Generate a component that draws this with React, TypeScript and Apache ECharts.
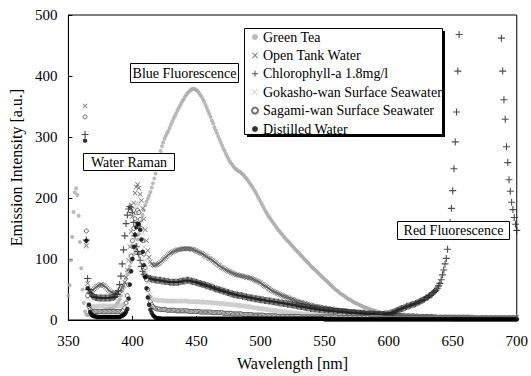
import { useEffect, useRef } from "react";
import * as echarts from "echarts";

// Wavelength grid (1 nm steps) shared by all series
const WL_START = 350;
const WL_END = 700;
const wavelengths: number[] = [];
for (let w = WL_START; w <= WL_END; w++) wavelengths.push(w);

const _ = null;

const greenTea: (number | null)[] = [
  40, 57, 98, 136, 177, 209, 216, 205, 171, 128,
  85, 50, 28, 14, 9, 8, 9, 9, 10, 10,
  11, 11, 12, 12, 13, 14, 15, 15, 16, 16,
  17, 18, 19, 19, 20, 21, 22, 24, 27, 30,
  34, 40, 47, 54, 61, 68, 75, 82, 88, 95,
  101, 108, 115, 123, 132, 141, 152, 163, 172, 180,
  188, 194, 199, 204, 210, 217, 224, 232, 240, 250,
  259, 268, 277, 285, 291, 297, 302, 306, 310, 315,
  320, 325, 330, 334, 338, 343, 347, 351, 355, 359,
  362, 366, 369, 372, 374, 376, 378, 379, 379, 378,
  377, 375, 372, 369, 366, 362, 358, 353, 348, 343,
  338, 333, 327, 322, 316, 311, 306, 301, 296, 291,
  286, 281, 277, 272, 268, 264, 260, 257, 254, 251,
  249, 247, 245, 244, 243, 241, 239, 237, 234, 232,
  229, 226, 223, 220, 217, 213, 210, 206, 202, 198,
  194, 190, 186, 182, 178, 175, 171, 168, 165, 162,
  159, 156, 153, 150, 147, 145, 142, 140, 137, 135,
  132, 130, 128, 126, 123, 121, 119, 116, 114, 112,
  110, 107, 105, 103, 100, 98, 96, 94, 92, 89,
  87, 85, 83, 81, 79, 77, 75, 73, 71, 69,
  67, 65, 63, 61, 59, 57, 55, 53, 51, 49,
  48, 46, 44, 43, 41, 40, 38, 37, 35, 34,
  33, 32, 30, 29, 28, 27, 26, 25, 24, 23,
  22, 21, 20, 20, 19, 18, 17, 16, 16, 15,
  14, 14, 13, 13, 12, 12, 11, 11, 10, 10,
  10, 9, 9, 9, 8, 8, 8, 8, 7, 7,
  7, 7, 6, 6, 6, 6, 6, 5, 5, 5,
  5, 5, 5, 5, 4, 4, 4, 4, 4, 4,
  4, 4, 4, 3, 3, 3, 3, 3, 3, 3,
  3, 3, 3, 3, 3, 3, 3, 3, 3, 3,
  3, 3, 3, 3, 3, 3, 2, 2, 2, 2,
  2, 2, 2, 2, 2, 2, 2, 2, 2, 2,
  2, 2, 2, 2, 2, 2, 2, 2, 2, 2,
  2, 2, 2, 2, 2, 2, 2, 2, 2, 2,
  2, 2, 2, 2, 2, 2, 2, 2, 2, 2,
  2,
];

const openTank: (number | null)[] = [
  _, _, _, _, _, _, _, _, _, _,
  _, _, _, 351, 122, 60, 48, 46, 47, 49,
  51, 53, 55, 56, 57, 58, 58, 57, 56, 54,
  52, 50, 48, 46, 45, 44, 44, 44, 45, 46,
  48, 50, 53, 57, 62, 70, 82, 98, 120, 145,
  170, 192, 208, 218, 222, 216, 206, 196, 183, 166,
  148, 130, 114, 103, 96, 92, 90, 89, 90, 91,
  92, 93, 95, 97, 99, 101, 103, 105, 107, 109,
  110, 111, 112, 113, 114, 115, 115, 116, 116, 117,
  117, 117, 117, 117, 117, 117, 116, 116, 115, 114,
  113, 112, 111, 110, 109, 108, 106, 105, 104, 102,
  101, 100, 98, 97, 95, 94, 92, 90, 89, 87,
  86, 85, 83, 82, 81, 80, 79, 78, 77, 76,
  75, 74, 74, 73, 73, 72, 72, 71, 71, 70,
  70, 69, 69, 68, 67, 66, 65, 64, 63, 62,
  61, 59, 58, 56, 55, 54, 52, 51, 49, 48,
  47, 46, 45, 44, 43, 42, 41, 40, 39, 38,
  38, 37, 36, 35, 34, 34, 33, 32, 31, 30,
  30, 29, 29, 28, 27, 27, 26, 26, 25, 24,
  24, 23, 23, 22, 22, 22, 21, 21, 20, 20,
  20, 19, 19, 19, 18, 18, 18, 17, 17, 17,
  16, 16, 16, 16, 15, 15, 15, 15, 14, 14,
  14, 14, 13, 13, 13, 13, 12, 12, 12, 12,
  12, 11, 11, 11, 11, 11, 10, 10, 10, 10,
  10, 10, 10, 10, 9, 9, 9, 9, 9, 9,
  9, 9, 9, 8, 8, 8, 8, 8, 8, 8,
  8, 8, 7, 7, 7, 7, 7, 7, 7, 7,
  7, 7, 6, 6, 6, 6, 6, 6, 6, 6,
  6, 6, 6, 6, 6, 6, 5, 5, 5, 5,
  5, 5, 5, 5, 5, 5, 5, 5, 5, 5,
  5, 5, 5, 5, 5, 5, 5, 5, 5, 5,
  5, 5, 5, 5, 5, 4, 4, 4, 4, 4,
  4, 4, 4, 4, 4, 4, 4, 4, 4, 4,
  4, 4, 4, 4, 4, 4, 4, 4, 4, 4,
  4, 4, 4, 4, 4, 4, 4, 4, 4, 4,
  4,
];

const chlorophyll: (number | null)[] = [
  _, _, _, _, _, _, _, _, _, _,
  _, _, _, 304, 131, 68, 50, 44, 41, 39,
  38, 37, 37, 36, 36, 36, 36, 36, 36, 36,
  36, 36, 36, 36, 37, 37, 38, 39, 42, 48,
  58, 72, 92, 115, 138, 158, 172, 182, 186, 184,
  176, 160, 138, 120, 112, 108, 98, 88, 80, 75,
  72, 70, 69, 68, 68, 67, 67, 66, 66, 65,
  65, 65, 65, 64, 64, 64, 63, 63, 63, 62,
  62, 62, 62, 62, 62, 62, 62, 63, 63, 64,
  64, 64, 65, 65, 65, 64, 64, 63, 63, 62,
  62, 61, 60, 60, 59, 58, 58, 57, 56, 56,
  55, 54, 54, 53, 52, 51, 51, 50, 49, 49,
  48, 47, 47, 46, 45, 45, 44, 43, 43, 42,
  42, 41, 41, 40, 40, 40, 39, 39, 38, 38,
  37, 37, 36, 36, 36, 35, 35, 35, 34, 34,
  33, 33, 33, 32, 32, 32, 31, 31, 31, 30,
  30, 30, 29, 29, 29, 28, 28, 28, 27, 27,
  27, 26, 26, 26, 25, 25, 24, 24, 24, 23,
  23, 22, 22, 22, 21, 21, 20, 20, 20, 19,
  19, 19, 18, 18, 18, 17, 17, 17, 16, 16,
  16, 16, 15, 15, 15, 15, 15, 14, 14, 14,
  14, 14, 13, 13, 13, 13, 13, 13, 12, 12,
  12, 12, 12, 12, 12, 11, 11, 11, 11, 11,
  11, 11, 10, 10, 10, 10, 10, 10, 10, 10,
  9, 9, 9, 9, 9, 9, 9, 10, 10, 10,
  10, 11, 12, 12, 13, 14, 15, 16, 17, 18,
  19, 19, 20, 21, 22, 23, 23, 24, 25, 26,
  26, 27, 28, 29, 30, 31, 32, 33, 34, 36,
  37, 38, 40, 41, 43, 45, 47, 49, 52, 56,
  60, 66, 74, 82, 92, 101, 116, 138, 160, 183,
  212, 248, 292, 341, 408, 468, _, _, _, _,
  _, _, _, _, _, _, _, _, _, _,
  _, _, _, _, _, _, _, _, _, _,
  _, _, _, _, _, _, _, _, 462, 408,
  361, 329, 284, 258, 230, 211, 193, 181, 168, 157,
  147,
];

const gokasho: (number | null)[] = [
  _, _, _, _, _, _, _, _, _, _,
  _, _, _, 266, 120, 35, 26, 23, 22, 22,
  22, 22, 22, 23, 23, 23, 23, 23, 23, 23,
  23, 23, 23, 23, 23, 23, 23, 23, 23, 23,
  23, 24, 24, 25, 30, 40, 55, 75, 100, 125,
  150, 170, 183, 190, 192, 188, 178, 163, 143, 120,
  98, 78, 62, 50, 42, 37, 34, 33, 33, 32,
  32, 32, 32, 32, 32, 31, 31, 31, 31, 31,
  31, 31, 31, 31, 31, 31, 31, 31, 31, 31,
  31, 31, 31, 31, 30, 30, 30, 30, 30, 30,
  30, 30, 30, 30, 30, 29, 29, 29, 29, 29,
  29, 29, 28, 28, 28, 28, 28, 27, 27, 27,
  27, 27, 26, 26, 26, 26, 25, 25, 25, 25,
  25, 24, 24, 24, 24, 23, 23, 23, 23, 22,
  22, 22, 21, 21, 21, 20, 20, 20, 19, 19,
  19, 18, 18, 18, 18, 17, 17, 17, 16, 16,
  16, 16, 15, 15, 15, 14, 14, 14, 14, 13,
  13, 13, 13, 12, 12, 12, 12, 11, 11, 11,
  11, 11, 10, 10, 10, 10, 10, 9, 9, 9,
  9, 9, 9, 8, 8, 8, 8, 8, 8, 7,
  7, 7, 7, 7, 7, 7, 6, 6, 6, 6,
  6, 6, 6, 6, 6, 5, 5, 5, 5, 5,
  5, 5, 5, 5, 5, 5, 5, 4, 4, 4,
  4, 4, 4, 4, 4, 4, 4, 4, 4, 4,
  4, 4, 4, 4, 4, 3, 3, 3, 3, 3,
  3, 3, 3, 3, 3, 3, 3, 3, 3, 3,
  3, 3, 3, 3, 3, 3, 3, 3, 3, 3,
  3, 3, 3, 3, 3, 3, 3, 3, 3, 3,
  3, 3, 3, 3, 3, 3, 3, 3, 3, 3,
  3, 3, 3, 3, 3, 3, 3, 3, 3, 3,
  2, 2, 2, 2, 2, 2, 2, 2, 2, 2,
  2, 2, 2, 2, 2, 2, 2, 2, 2, 2,
  2, 2, 2, 2, 2, 2, 2, 2, 2, 2,
  2, 2, 2, 2, 2, 2, 2, 2, 2, 2,
  2, 2, 2, 2, 2, 2, 2, 2, 2, 2,
  2,
];

const sagami: (number | null)[] = [
  _, _, _, _, _, _, _, _, _, _,
  _, _, _, 333, 146, 40, 22, 17, 15, 14,
  14, 14, 14, 14, 14, 14, 14, 14, 14, 14,
  14, 14, 14, 14, 14, 14, 14, 14, 14, 14,
  14, 14, 15, 16, 20, 28, 40, 58, 80, 105,
  130, 150, 166, 176, 180, 176, 165, 150, 130, 108,
  86, 66, 50, 38, 30, 25, 22, 20, 19, 18,
  18, 18, 17, 17, 17, 17, 17, 16, 16, 16,
  16, 16, 16, 16, 15, 15, 15, 15, 15, 15,
  15, 15, 15, 15, 14, 14, 14, 14, 14, 14,
  14, 14, 14, 13, 13, 13, 13, 13, 13, 13,
  13, 13, 12, 12, 12, 12, 12, 12, 12, 12,
  12, 11, 11, 11, 11, 11, 11, 11, 10, 10,
  10, 10, 10, 10, 10, 10, 9, 9, 9, 9,
  9, 9, 9, 9, 8, 8, 8, 8, 8, 8,
  8, 8, 8, 7, 7, 7, 7, 7, 7, 7,
  7, 7, 7, 6, 6, 6, 6, 6, 6, 6,
  6, 6, 6, 6, 6, 6, 6, 6, 6, 6,
  6, 5, 5, 5, 5, 5, 5, 5, 5, 5,
  5, 5, 5, 5, 5, 5, 5, 5, 5, 5,
  5, 5, 5, 5, 5, 5, 5, 5, 5, 5,
  4, 4, 4, 4, 4, 4, 4, 4, 4, 4,
  4, 4, 4, 4, 4, 4, 4, 4, 4, 4,
  4, 4, 4, 4, 4, 3, 3, 3, 3, 3,
  3, 3, 3, 3, 3, 3, 3, 3, 3, 3,
  3, 3, 3, 3, 3, 3, 3, 3, 3, 3,
  3, 3, 3, 3, 3, 3, 3, 3, 3, 3,
  3, 3, 3, 3, 3, 3, 3, 3, 3, 3,
  3, 3, 3, 3, 3, 3, 3, 3, 3, 3,
  3, 3, 3, 3, 3, 3, 3, 3, 3, 3,
  2, 2, 2, 2, 2, 2, 2, 2, 2, 2,
  2, 2, 2, 2, 2, 2, 2, 2, 2, 2,
  2, 2, 2, 2, 2, 2, 2, 2, 2, 2,
  2, 2, 2, 2, 2, 2, 2, 2, 2, 2,
  2, 2, 2, 2, 2, 2, 2, 2, 2, 2,
  2,
];

const distilled: (number | null)[] = [
  _, _, _, _, _, _, _, _, _, _,
  _, _, _, 294, 130, 52, 25, 13, 9, 7,
  6, 6, 5, 5, 5, 5, 5, 5, 5, 5,
  5, 5, 5, 5, 5, 5, 5, 5, 5, 5,
  5, 6, 7, 8, 10, 13, 18, 35, 58, 80,
  100, 120, 140, 152, 158, 157, 148, 132, 112, 90,
  70, 52, 37, 25, 17, 12, 8, 6, 4, 3,
  3, 3, 2, 2, 2, 2, 2, 2, 2, 2,
  2, 2, 2, 2, 2, 2, 2, 2, 2, 2,
  2, 2, 2, 2, 2, 2, 2, 2, 2, 2,
  2, 2, 2, 2, 2, 2, 2, 2, 2, 2,
  2, 2, 2, 2, 2, 2, 2, 2, 2, 2,
  2, 2, 2, 2, 2, 2, 2, 2, 2, 2,
  2, 2, 2, 2, 2, 2, 2, 2, 2, 2,
  2, 2, 2, 2, 2, 2, 2, 2, 2, 2,
  2, 2, 2, 2, 2, 2, 2, 2, 2, 2,
  2, 2, 2, 2, 2, 2, 2, 2, 2, 2,
  2, 2, 2, 2, 2, 2, 2, 2, 2, 2,
  2, 2, 2, 2, 2, 2, 2, 2, 2, 2,
  2, 2, 2, 2, 2, 2, 2, 2, 2, 2,
  1, 1, 1, 1, 1, 1, 1, 1, 1, 1,
  1, 1, 1, 1, 1, 1, 1, 1, 1, 1,
  1, 1, 1, 1, 1, 1, 1, 1, 1, 1,
  1, 1, 1, 1, 1, 1, 1, 1, 1, 1,
  1, 1, 1, 1, 1, 1, 1, 1, 1, 1,
  1, 1, 1, 1, 1, 1, 1, 1, 1, 1,
  1, 1, 1, 1, 1, 1, 1, 1, 1, 1,
  1, 1, 1, 1, 1, 1, 1, 1, 1, 1,
  1, 1, 1, 1, 1, 1, 1, 1, 1, 1,
  1, 1, 1, 1, 1, 1, 1, 1, 1, 1,
  1, 1, 1, 1, 1, 1, 1, 1, 1, 1,
  1, 1, 1, 1, 1, 1, 1, 1, 1, 1,
  1, 1, 1, 1, 1, 1, 1, 1, 1, 1,
  1, 1, 1, 1, 1, 1, 1, 1, 1, 1,
  1, 1, 1, 1, 1, 1, 1, 1, 1, 1,
  1,
];

const seriesNames = [
  "Green Tea",
  "Open Tank Water",
  "Chlorophyll-a 1.8mg/l",
  "Gokasho-wan Surface Seawater",
  "Sagami-wan Surface Seawater",
  "Distilled Water",
];
const seriesValues = [greenTea, openTank, chlorophyll, gokasho, sagami, distilled];

const annotations = [
  { text: "Blue Fluorescence", x: 130, y: 63, w: 108, h: 19 },
  { text: "Water Raman", x: 83, y: 153, w: 91, h: 17 },
  { text: "Red Fluorescence", x: 397, y: 221, w: 112, h: 18 },
];

const SERIF = "Liberation Serif";
const PLUS = "path://M0,4.2H10V5.8H0Z M4.2,0H5.8V10H4.2Z";
const CROSS =
  "path://M1.1,0L5,3.9L8.9,0L10,1.1L6.1,5L10,8.9L8.9,10L5,6.1L1.1,10L0,8.9L3.9,5L0,1.1Z";

const styles = [
  { symbol: "circle", size: 4, itemStyle: { color: "#a9a9a9" } },
  { symbol: CROSS, size: 5, itemStyle: { color: "#555555" } },
  { symbol: PLUS, size: 7, itemStyle: { color: "#222222" } },
  { symbol: CROSS, size: 5, itemStyle: { color: "#c4c4c4" } },
  { symbol: "circle", size: 4, itemStyle: { color: "#ffffff", borderColor: "#4a4a4a", borderWidth: 1 } },
  { symbol: "circle", size: 4.5, itemStyle: { color: "#000000" } },
];

export default function App() {
  const ref = useRef<HTMLDivElement>(null);
  useEffect(() => {
    if (!ref.current) return;
    const chart = echarts.init(ref.current, null, { renderer: "svg" });
    const series = seriesNames.map((name, k) => {
      const vals = seriesValues[k];
      const data: number[][] = [];
      wavelengths.forEach((w, i) => {
        const v = vals[i];
        if (v !== null && v !== undefined) data.push([w, v]);
      });
      return {
        name,
        type: "scatter",
        data,
        symbol: styles[k].symbol,
        symbolSize: styles[k].size,
        itemStyle: styles[k].itemStyle,
        clip: true,
        silent: true,
        z: 2 + k * 0.01,
      };
    });
    const graphics: any[] = [
      { type: "rect", z: 5, shape: { x: 247, y: 31, width: 198, height: 106 }, style: { fill: "#000" } },
      { type: "rect", z: 6, shape: { x: 244.5, y: 28.5, width: 198, height: 106 }, style: { fill: "#fff", stroke: "#000", lineWidth: 1 } },
    ];
    annotations.forEach((a) => {
      graphics.push({
        type: "rect",
        z: 30,
        shape: { x: a.x + 0.5, y: a.y + 0.5, width: a.w, height: a.h },
        style: { fill: "#fff", stroke: "#000", lineWidth: 1 },
      });
      graphics.push({
        type: "text",
        z: 31,
        x: a.x + 0.5 + a.w / 2,
        y: a.y + 0.5 + a.h / 2,
        style: {
          text: a.text,
          fill: "#000",
          fontFamily: SERIF,
          fontSize: 14,
          align: "center",
          verticalAlign: "middle",
        },
      });
    });
    chart.setOption({
      animation: false,
      backgroundColor: "#fff",
      textStyle: { fontFamily: SERIF },
      grid: { left: 61, right: 12.5, top: 15, bottom: 54.5, show: true, borderColor: "#000", borderWidth: 1 },
      xAxis: {
        type: "value",
        min: 350,
        max: 700,
        interval: 50,
        name: "Wavelength [nm]",
        nameLocation: "middle",
        nameGap: 35,
        nameTextStyle: { color: "#000", fontFamily: SERIF, fontSize: 16 },
        axisLine: { lineStyle: { color: "#000", width: 1 } },
        axisTick: { inside: true, length: 4, lineStyle: { color: "#000" } },
        axisLabel: { color: "#000", fontFamily: SERIF, fontSize: 15, margin: 13 },
        splitLine: { show: false },
      },
      yAxis: {
        type: "value",
        min: 0,
        max: 500,
        interval: 100,
        name: "Emission Intensity [a.u.]",
        nameLocation: "middle",
        nameGap: 36,
        nameTextStyle: { color: "#000", fontFamily: SERIF, fontSize: 16 },
        axisLine: { show: true, lineStyle: { color: "#000", width: 1 } },
        axisTick: { show: true, inside: true, length: 4, lineStyle: { color: "#000" } },
        axisLabel: { color: "#000", fontFamily: SERIF, fontSize: 15, margin: 11 },
        splitLine: { show: false },
      },
      legend: {
        orient: "vertical",
        left: 251,
        top: 30,
        padding: 0,
        itemWidth: 6,
        itemHeight: 6,
        itemGap: 4.4,
        z: 10,
        selectedMode: false,
        textStyle: { color: "#000", fontFamily: SERIF, fontSize: 14, lineHeight: 14 },
        data: seriesNames,
      },
      graphic: { elements: graphics },
      series,
    });
    return () => chart.dispose();
  }, []);
  return (
    <div
      ref={ref}
      style={{ position: "fixed", left: 0, top: 0, width: 531, height: 376, background: "#fff" }}
    />
  );
}
